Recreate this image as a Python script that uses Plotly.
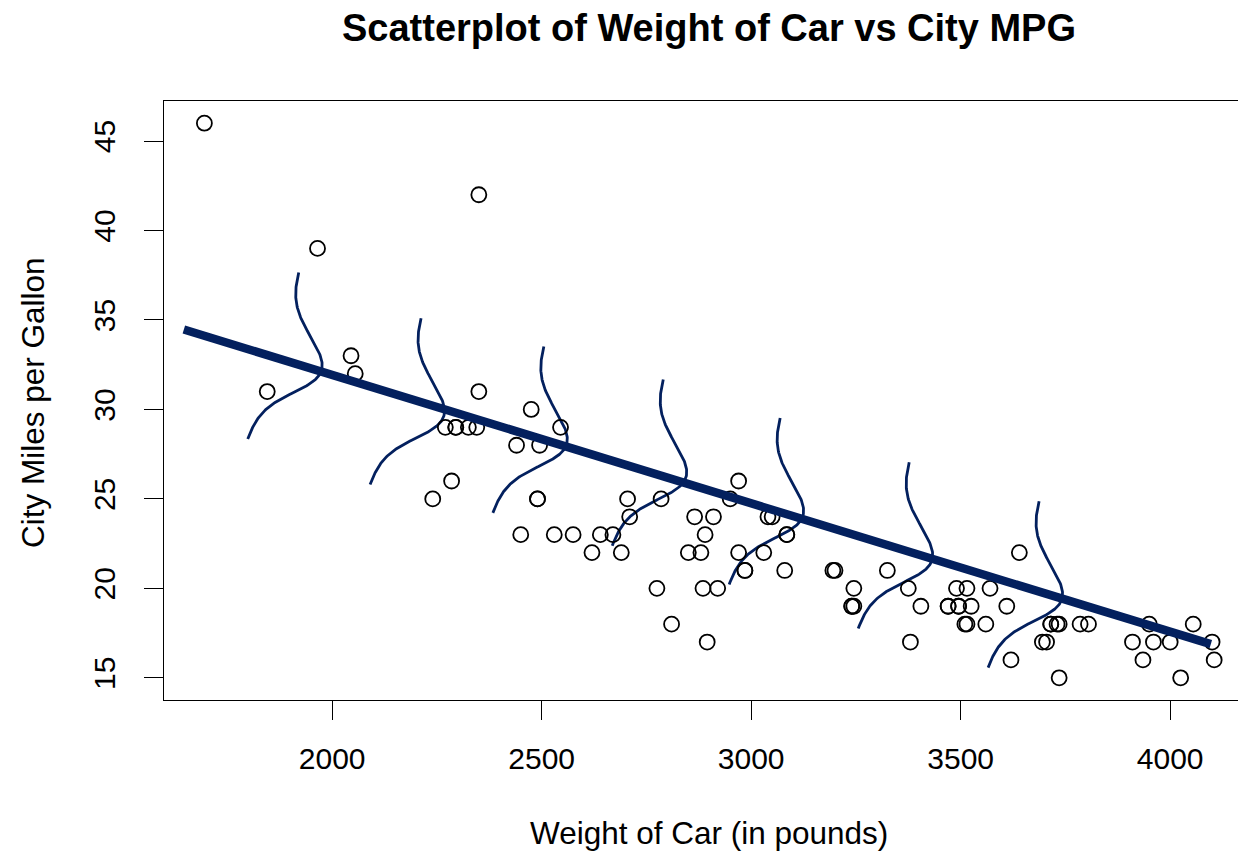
import numpy as np
import plotly.graph_objects as go

# ---- data (Cars93: Weight vs MPG.city) ----
weight = [2705, 3560, 3375, 3405, 3640, 2880, 3470, 4105, 3495, 3620,
          3935, 2490, 2785, 3240, 3195, 3715, 4025, 3910, 3380, 3515,
          3085, 3570, 2270, 2670, 2970, 3705, 3080, 3805, 2295, 3490,
          1845, 2530, 2690, 2850, 2710, 3735, 3325, 3950, 1695, 2475,
          2865, 2350, 3040, 2345, 2620, 2285, 2885, 4000, 3510, 3515,
          3695, 4055, 2325, 2440, 2970, 3735, 2895, 2920, 3525, 2450,
          3610, 2295, 3730, 2545, 3050, 4100, 3200, 2910, 2890, 3715,
          3470, 2640, 2350, 2575, 3240, 3495, 3245, 2775, 2495, 2045,
          2490, 3085, 1965, 2055, 2950, 3030, 3785, 2240, 3960, 2985,
          2810, 2985, 3245]
mpg_city = [25, 18, 20, 19, 22, 22, 19, 16, 19, 16,
            16, 25, 25, 19, 21, 18, 15, 17, 17, 20,
            23, 20, 29, 23, 22, 17, 21, 18, 29, 20,
            31, 23, 22, 22, 24, 15, 21, 18, 46, 30,
            24, 42, 24, 29, 22, 26, 20, 17, 18, 18,
            17, 18, 29, 28, 26, 18, 17, 20, 19, 23,
            19, 29, 18, 29, 24, 17, 21, 24, 23, 18,
            19, 23, 31, 23, 19, 19, 19, 20, 28, 33,
            25, 23, 39, 32, 25, 22, 18, 25, 17, 21,
            18, 21, 20]

# fitted line endpoints
fit_x = [1646, 4097]
fit_y = [34.47, 16.88]

# centres of the normal-density curves
dens_x = [1858, 2150, 2443, 2728, 3007, 3315, 3625]
dens_y = [33.01, 30.46, 28.88, 27.04, 24.88, 22.41, 20.23]

x_ticks = [2000, 2500, 3000, 3500, 4000]
y_ticks = [15, 20, 25, 30, 35, 40, 45]

# ---- layout geometry ----
W, H = 1238, 852
ML, MR, MT, MB = 164, 0, 101, 152
PW, PH = W - ML - MR, H - MT - MB
x_range = [1598.6, 1598.6 + PW / 0.419]
y_range = [13.76, 47.24]
PX_X = PW / (x_range[1] - x_range[0])
PX_Y = PH / (y_range[1] - y_range[0])

NAVY = "#03205e"
FONT = "Liberation Sans, Arial, Helvetica, sans-serif"

fig = go.Figure()

# density curves drawn perpendicular to the fitted line (screen space)
ux, uy = (fit_x[1] - fit_x[0]) * PX_X, -(fit_y[1] - fit_y[0]) * PX_Y
norm = np.hypot(ux, uy)
ux, uy = ux / norm, uy / norm          # along the line (screen, y down)
px_, py_ = -uy, ux                     # perpendicular, pointing down-left
sigma_px, half_len, height_px = 29.0, 87.0, 51.0
s = np.linspace(-half_len, half_len, 200)
g = height_px * np.exp(-s ** 2 / (2 * sigma_px ** 2))
for cx, cy in zip(dens_x, dens_y):
    ox = s * px_ + g * ux
    oy = s * py_ + g * uy
    fig.add_trace(go.Scatter(
        x=cx + ox / PX_X, y=cy - oy / PX_Y, mode="lines",
        line=dict(color=NAVY, width=2.8), hoverinfo="skip", showlegend=False))

# points
fig.add_trace(go.Scatter(
    x=weight, y=mpg_city, mode="markers",
    marker=dict(symbol="circle-open", size=15, color="black",
                line=dict(color="black", width=1.8)),
    showlegend=False))

# fitted line
fig.add_trace(go.Scatter(
    x=fit_x, y=fit_y, mode="lines",
    line=dict(color=NAVY, width=8.5), showlegend=False))

axis_common = dict(
    showgrid=False, zeroline=False, showline=True, linecolor="black",
    linewidth=1.3, ticks="outside", ticklen=19, tickwidth=1.3,
    tickcolor="black", tickfont=dict(family=FONT, size=30, color="black"),
)
fig.update_xaxes(range=x_range, tickvals=x_ticks,
                 ticktext=[str(v) for v in x_ticks], mirror=True,
                 ticklabelstandoff=13, **axis_common)
fig.update_yaxes(range=y_range, tickvals=y_ticks,
                 ticktext=[str(v) for v in y_ticks], tickangle=-90,
                 ticklabelstandoff=17, **axis_common)

plot_cx = (ML + (ML + 1090)) / 2  # centre of R plot region (extends beyond crop)
fig.update_layout(
    width=W, height=H, margin=dict(l=ML, r=MR, t=MT, b=MB),
    paper_bgcolor="white", plot_bgcolor="white",
    title=dict(text="<b>Scatterplot of Weight of Car vs City MPG</b>",
               font=dict(family=FONT, size=38, color="black"),
               xref="container", yref="container",
               x=plot_cx / W, xanchor="center", y=1 - 28 / H, yanchor="middle"),
    annotations=[
        dict(text="Weight of Car (in pounds)", xref="paper", yref="paper",
             x=(plot_cx - ML) / PW, y=(MT + PH - 833) / PH,
             xanchor="center", yanchor="middle", showarrow=False,
             font=dict(family=FONT, size=31.5, color="black")),
        dict(text="City Miles per Gallon", xref="paper", yref="paper",
             x=(33 - ML) / PW, y=(MT + PH - 403) / PH, textangle=-90,
             xanchor="center", yanchor="middle", showarrow=False,
             font=dict(family=FONT, size=31.5, color="black")),
    ],
)

fig.write_html("out.html")
